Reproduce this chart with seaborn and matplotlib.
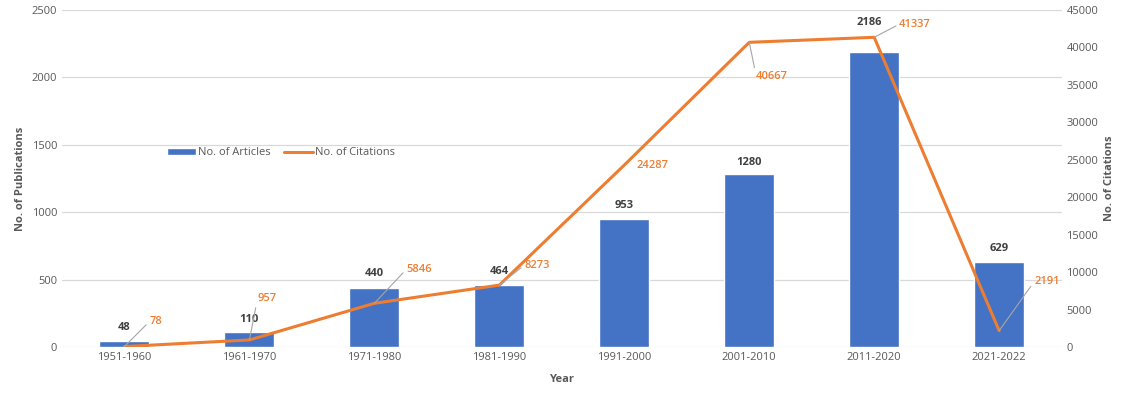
import matplotlib
matplotlib.use("Agg")
import matplotlib.pyplot as plt
import seaborn as sns

# Data
periods = ["1951-1960", "1961-1970", "1971-1980", "1981-1990",
           "1991-2000", "2001-2010", "2011-2020", "2021-2022"]
articles = [48, 110, 440, 464, 953, 1280, 2186, 629]
citations = [78, 957, 5846, 8273, 24287, 40667, 41337, 2191]

# label offsets in pixels (dx, dy)
art_off = [(0, 13), (0, 13), (0, 14), (0, 13), (0, 13), (0, 12), (-5, 30), (0, 14)]
cit_off = [(25, 25), (8, 41), (32, 34), (25, 20), (12, 0), (7, -34), (25, 13), (35, 49)]

sns.set_style("white")
plt.rcParams["font.family"] = ["Open Sans", "DejaVu Sans"]

blue = "#4472c4"
orange = "#ed7d31"
grey = "#595959"

fig = plt.figure(figsize=(11.27, 3.94), dpi=100)
ax = fig.add_axes([0.055, 0.119, 0.887, 0.856])

sns.barplot(x=periods, y=articles, color=blue, width=0.4, ax=ax,
            label="No. of Articles", saturation=1)
ax.set_ylim(0, 2500)
ax.set_xlim(-0.5, 7.5)
ax.set_yticks(range(0, 2501, 500))
ax.yaxis.grid(True, color="#d9d9d9", lw=0.9)
ax.set_axisbelow(True)

ax2 = ax.twinx()
sns.lineplot(x=periods, y=citations, color=orange, lw=2.2, ax=ax2,
             label="No. of Citations", sort=False, legend=False)
ax2.set_ylim(0, 45000)
ax2.set_yticks(range(0, 45001, 5000))
ax2.grid(False)

for a in (ax, ax2):
    for s in a.spines.values():
        s.set_visible(False)
    a.tick_params(length=0, labelsize=8, labelcolor=grey)

ax.set_xlabel("Year", fontsize=8, color=grey, fontweight="bold")
ax.set_ylabel("No. of Publications", fontsize=8, color=grey, fontweight="bold")
ax2.set_ylabel("No. of Citations", fontsize=8, color=grey, fontweight="bold")
ax.xaxis.labelpad = 8

for i, v in enumerate(articles):
    dx, dy = art_off[i]
    ax.annotate(str(v), (i, v), xytext=(dx, dy), textcoords="offset pixels",
                ha="center", va="center", fontsize=8, fontweight="bold",
                color="#404040")

for i, v in enumerate(citations):
    dx, dy = cit_off[i]
    arrow = None
    if abs(dx) + abs(dy) > 20:
        arrow = dict(arrowstyle="-", color="#a6a6a6", lw=0.8,
                     shrinkA=0, shrinkB=0, relpos=(0, 0.5))
    ax2.annotate(str(v), (i, v), xytext=(dx, dy), textcoords="offset pixels",
                 ha="left", va="center", fontsize=8, fontweight="semibold",
                 color=orange, arrowprops=arrow)

h1, l1 = ax.get_legend_handles_labels()
h2, l2 = ax2.get_legend_handles_labels()
ax.legend(h1 + h2, l1 + l2, loc="center left", bbox_to_anchor=(0.095, 0.576),
          ncol=2, frameon=False, fontsize=8, labelcolor=grey,
          handlelength=2.6, handleheight=0.5, handletextpad=0.2,
          columnspacing=1.2)

fig.savefig("out.png", dpi=100)
